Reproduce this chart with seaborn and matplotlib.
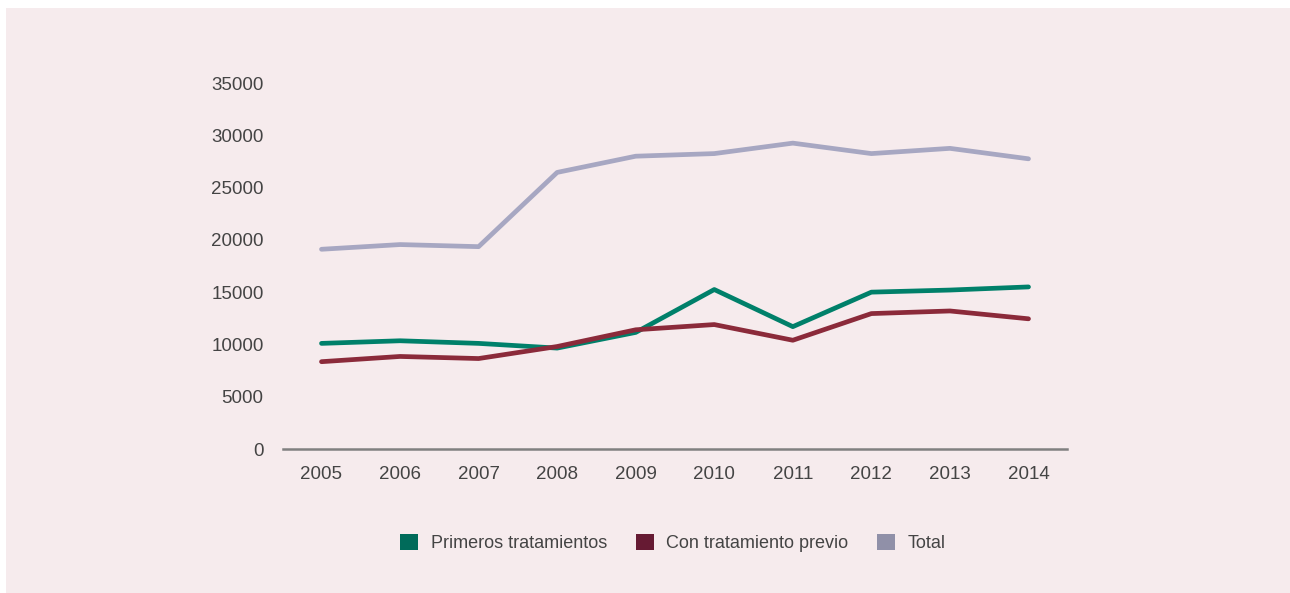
import numpy as np
import pandas as pd
import matplotlib.pyplot as plt
import seaborn as sns
from matplotlib.patches import Patch, Rectangle

# ================= DATA =================
years = [2005, 2006, 2007, 2008, 2009, 2010, 2011, 2012, 2013, 2014]
primeros = [10100, 10350, 10100, 9650, 11150, 15250, 11700, 15000, 15200, 15500]
previo = [8350, 8850, 8650, 9800, 11400, 11900, 10400, 12950, 13200, 12450]
total = [19100, 19550, 19350, 26450, 28000, 28250, 29250, 28250, 28750, 27750]
series_names = ["Primeros tratamientos", "Con tratamiento previo", "Total"]
y_ticks = [0, 5000, 10000, 15000, 20000, 25000, 30000, 35000]

# ================= STYLE =================
BG = "#F6EBED"
line_colors = ["#00806A", "#8B2A3A", "#A7A7C2"]
legend_colors = ["#006B5A", "#661A33", "#9090A8"]
TEXT = "#444444"

sns.set_style("white")
plt.rcParams['font.family'] = ['Liberation Sans', 'DejaVu Sans']

df = pd.DataFrame({
    "year": years * 3,
    "value": primeros + previo + total,
    "serie": [s for s in series_names for _ in years],
})
df["pos"] = df["year"].map({y: i for i, y in enumerate(years)})

fig = plt.figure(figsize=(12.9, 5.93), dpi=100)
fig.patch.set_facecolor("white")
fig.patches.append(Rectangle((6 / 1290, 0), 1 - 6 / 1290, 1 - 8 / 593,
                             transform=fig.transFigure, facecolor=BG,
                             edgecolor="none", zorder=-10))

ax = fig.add_axes([283 / 1290, 1 - 449 / 593, (1067 - 283) / 1290, (449 - 83) / 593])
ax.set_facecolor("none")

sns.lineplot(data=df, x="pos", y="value", hue="serie", hue_order=series_names,
             palette=line_colors, linewidth=3.4, ax=ax, legend=False)

ax.set_xlim(-0.49, len(years) - 1 + 0.49)
ax.set_ylim(0, 35000)
ax.set_xticks(range(len(years)))
ax.set_xticklabels([str(y) for y in years])
ax.set_yticks(y_ticks)
ax.set_yticklabels([str(t) for t in y_ticks])
ax.tick_params(axis="both", length=0, labelsize=13.5, colors=TEXT)
ax.tick_params(axis="x", pad=12)
ax.tick_params(axis="y", pad=14)
ax.set_xlabel("")
ax.set_ylabel("")

for side in ["top", "right", "left"]:
    ax.spines[side].set_visible(False)
ax.spines["bottom"].set_color("#808080")
ax.spines["bottom"].set_linewidth(1.8)
ax.spines["bottom"].set_clip_on(False)

handles = [Patch(facecolor=c, edgecolor="none") for c in legend_colors]
fig.legend(handles, series_names, loc="center", bbox_to_anchor=(673 / 1290, 1 - 543 / 593),
           ncol=3, frameon=False, fontsize=13, labelcolor=TEXT,
           handlelength=1.0, handleheight=1.0, handletextpad=0.7, columnspacing=1.6)

fig.savefig("out.png", dpi=100, facecolor=fig.get_facecolor())
